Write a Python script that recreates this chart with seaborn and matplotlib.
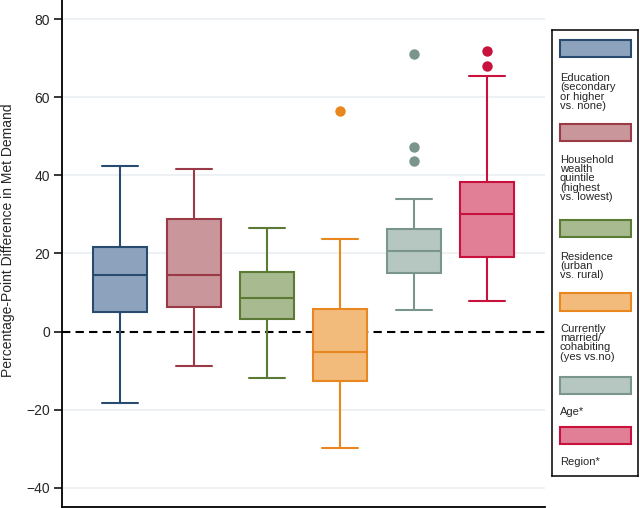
import numpy as np
import pandas as pd
import matplotlib.pyplot as plt
from matplotlib.patches import Rectangle
import seaborn as sns

# summary values (percentage points)
grupos = ['Education', 'Wealth', 'Residence', 'Married', 'Age', 'Region']
minimo = [-18.4, -8.8, -11.9, -29.7, 5.5, 7.8]
q1 = [5.0, 6.4, 3.2, -12.6, 15.1, 19.2]
mediana = [14.6, 14.5, 8.7, -5.3, 20.6, 30.2]
q3 = [21.6, 28.7, 15.2, 5.9, 26.2, 38.2]
maximo = [42.3, 41.5, 26.5, 23.6, 33.9, 65.5]
outliers = [[], [], [], [56.5], [43.7, 47.2, 71.1], [68.0, 71.8]]

legenda = [
    ['Education', '(secondary', 'or higher', 'vs. none)'],
    ['Household', 'wealth', 'quintile', '(highest', 'vs. lowest)'],
    ['Residence', '(urban', 'vs. rural)'],
    ['Currently', 'married/', 'cohabiting', '(yes vs.no)'],
    ['Age*'],
    ['Region*'],
]

cor_fundo = ['#8da3bd', '#c9969b', '#a8ba8f', '#f2bb7c', '#b6c7c1', '#e17f97']
cor_borda = ['#2a4b70', '#9a3a47', '#5b7a35', '#e8871e', '#7a948e', '#c8113c']

# rebuild a sample for each group that has exactly those quartiles/whiskers
linhas = []
for i, g in enumerate(grupos):
    k = len(outliers[i])
    a = 3 * (k + 1)
    valores = [minimo[i]] * (k + 1) + [q1[i]] * a + [mediana[i]] + [q3[i]] * a + [maximo[i]] + outliers[i]
    for v in valores:
        linhas.append({'grupo': g, 'valor': v})
dados = pd.DataFrame(linhas)

sns.set_style('white')
plt.rcParams['font.family'] = ['Liberation Sans', 'DejaVu Sans']

fig = plt.figure(figsize=(6.4, 5.08), dpi=100)
ax = fig.add_axes([62 / 640, 1.3 / 508, 483 / 640, 506.7 / 508])

sns.boxplot(data=dados, x='grupo', y='valor', hue='grupo', order=grupos, hue_order=grupos,
            palette=cor_fundo, saturation=1, width=0.74, capwidths=0.49, linewidth=1.5,
            legend=False, flierprops=dict(marker='o', markersize=7.5, markeredgewidth=0),
            ax=ax)

# per-group edge colours
for p in ax.patches:
    i = int(round(np.mean(p.get_path().vertices[:, 0])))
    if 0 <= i < len(grupos):
        p.set_edgecolor(cor_borda[i])
        p.set_linewidth(1.5)
for ln in ax.lines:
    xd = np.asarray(ln.get_xdata(), dtype=float)
    if len(xd) == 0:
        continue
    i = int(round(np.mean(xd)))
    if 0 <= i < len(grupos):
        ln.set_color(cor_borda[i])
        ln.set_markerfacecolor(cor_borda[i])
        ln.set_markeredgecolor(cor_borda[i])

for y in [-40, -20, 20, 40, 60, 80]:
    ax.axhline(y, color='#e8eef1', lw=1.1, zorder=0)
ax.axhline(0, color='black', lw=1.5, ls=(0, (4, 2.5)), zorder=0.5)

ax.set_xlim(-0.795, 5.79)
ax.set_ylim(-44.85, 84.9)
ax.set_yticks([-40, -20, 0, 20, 40, 60, 80])
ax.set_xticks([])
ax.set_xlabel('')
ax.set_ylabel('Percentage-Point Difference in Met Demand', fontsize=10)
ax.yaxis.label.set_va('center')
ax.yaxis.set_label_coords(-0.111, 0.526)
ax.tick_params(axis='y', labelsize=10, length=5.8, width=1.1, pad=3, left=True, color='black')
for s in ['top', 'right']:
    ax.spines[s].set_visible(False)
for s in ['left', 'bottom']:
    ax.spines[s].set_color('black')
    ax.spines[s].set_linewidth(1.3)

# legend box with keys above their labels
lx0, ly0, lx1, ly1 = 551.7, 30, 638, 476
lg = fig.add_axes([lx0 / 640, (508 - ly1) / 508, (lx1 - lx0) / 640, (ly1 - ly0) / 508])
lg.set_xlim(lx0, lx1)
lg.set_ylim(ly1, ly0)
lg.set_xticks([])
lg.set_yticks([])
for s in lg.spines.values():
    s.set_color('black')
    s.set_linewidth(1.1)

chaves = [(40, 57), (124, 141), (220, 237), (293, 311), (377, 394), (427, 444)]
texto_y = [78.3, 160, 256.7, 329, 412.3, 461.7]
for i in range(len(grupos)):
    t, b = chaves[i]
    lg.add_patch(Rectangle((560, t), 71, b - t, facecolor=cor_fundo[i],
                           edgecolor=cor_borda[i], linewidth=1.5))
    for j, linha in enumerate(legenda[i]):
        lg.text(560, texto_y[i] + j * 9.2, linha, fontsize=8, va='center', ha='left')

plt.savefig('out.png', dpi=100)
